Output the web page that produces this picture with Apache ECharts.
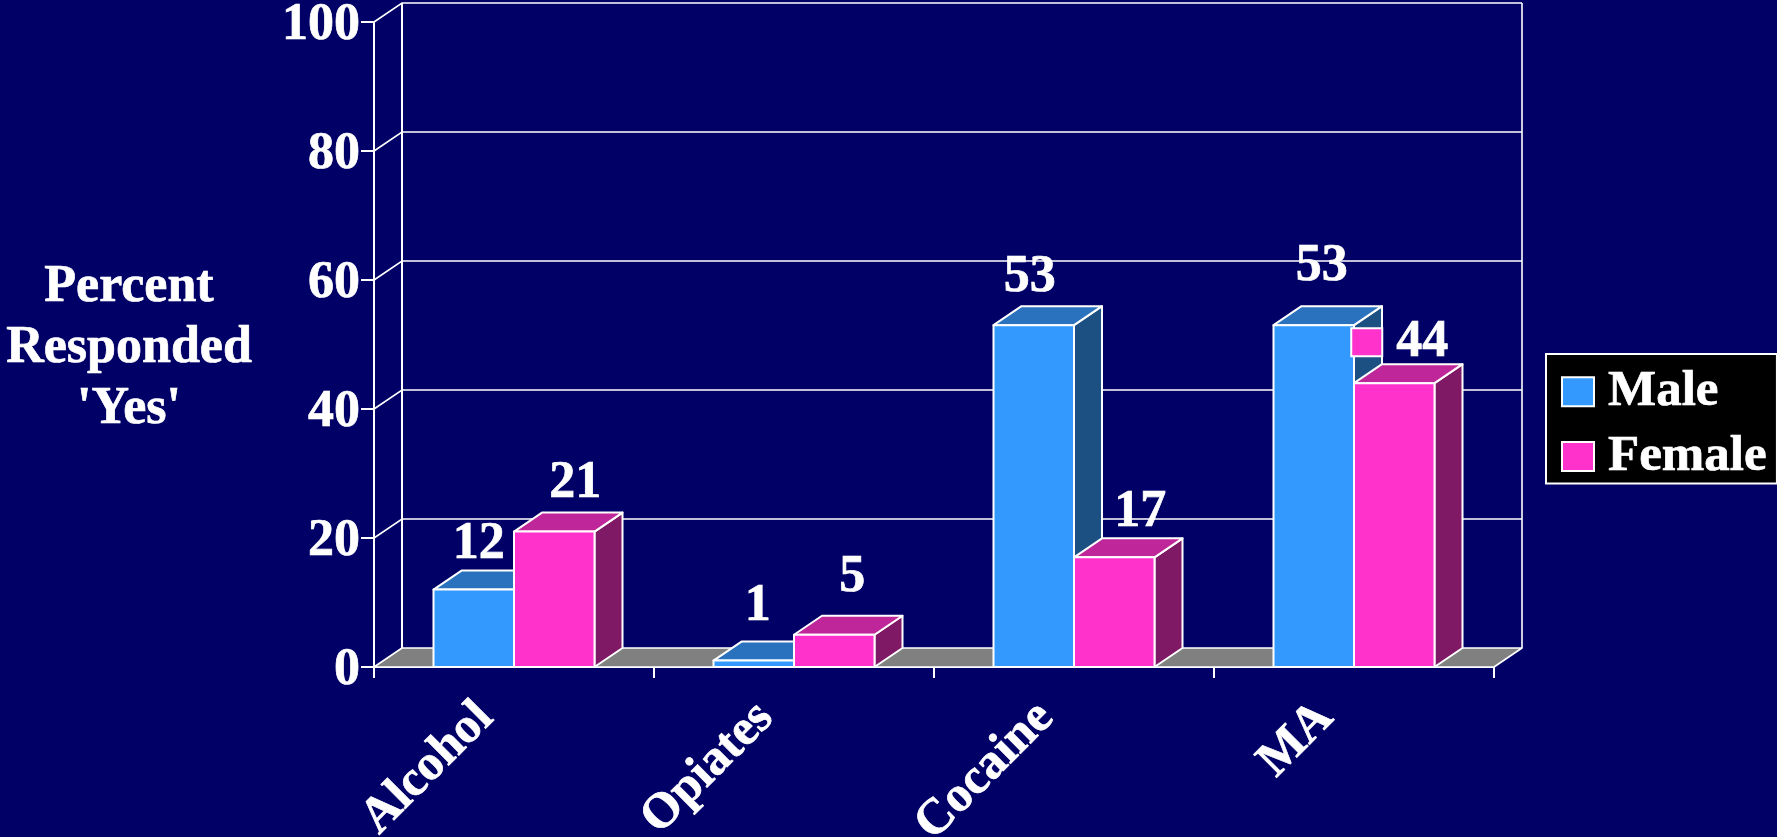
<!DOCTYPE html>
<html>
<head>
<meta charset="utf-8">
<style>html,body{margin:0;padding:0;background:#000066}#c{width:1777px;height:837px}</style>
<script src="https://cdn.jsdelivr.net/npm/echarts@6/dist/echarts.min.js"></script>
</head>
<body>
<div id="c"></div>
<script>
const categories = ['Alcohol', 'Opiates', 'Cocaine', 'MA'];
const maleValues = [12, 1, 53, 53];
const femaleValues = [21, 5, 17, 44];
const yTicks = [0, 20, 40, 60, 80, 100];
const yTitle = "Percent\nResponded\n'Yes'";

const FONT = '"Liberation Serif","Times New Roman",serif';
const BIG = 52;
const DX = 28, DY = -19;
const LINE = '#ffffff';
const BAR_SHARE = 0.2875;
const HEAVY = { textBorderColor: '#fff', textBorderWidth: 0.7 };
// hand-placed label offsets (from the bar's top centre), as in the original
const maleNudge = [[5, -27], [4, -36], [-4, -30], [8, -41]];
const femaleNudge = [[21, -30], [18, -40], [26, -27], [28, -23]];

function poly(points, fill, width) {
  return { type: 'polygon', shape: { points }, style: { fill, stroke: LINE, lineWidth: width || 2, lineJoin: 'round' } };
}
function barSeries(name, values, side, colors, nudge) {
  return {
    name, type: 'custom', coordinateSystem: 'cartesian2d', clip: false,
    encode: { x: 0, y: 1 }, itemStyle: { color: colors[0] },
    data: values.map((v, i) => [i, v]),
    z: 5,
    renderItem(params, api) {
      const i = api.value(0), v = api.value(1);
      const c = api.coord([i, v]), base = api.coord([i, 0]);
      const w = api.size([1, 0])[0] * BAR_SHARE;
      const x0 = side < 0 ? c[0] - w : c[0], x1 = x0 + w;
      const t = c[1], b = base[1];
      const n = nudge[i];
      const children = [
        poly([[x1, b], [x1 + DX, b + DY], [x1 + DX, t + DY], [x1, t]], colors[2]),
        poly([[x0, t], [x0 + DX, t + DY], [x1 + DX, t + DY], [x1, t]], colors[1]),
        poly([[x0, b], [x1, b], [x1, t], [x0, t]], colors[0]),
        { type: 'text', z2: 10, style: { text: String(v), x: (x0 + x1) / 2 + n[0], y: t + n[1] - 0.3375 * BIG, fill: '#fff',
          stroke: '#fff', lineWidth: 0.7,
          font: 'bold ' + BIG + 'px ' + FONT, align: 'center', verticalAlign: 'middle' } }
      ];
      if (side > 0 && i === categories.length - 1) {
        // the legend key shown beside the "44" label
        children.push({ type: 'rect', z2: 10, shape: { x: (x0 + x1) / 2 - 43, y: t - 55, width: 31, height: 28 },
          style: { fill: colors[0], stroke: LINE, lineWidth: 2 } });
      }
      return { type: 'group', children };
    }
  };
}

const chart = echarts.init(document.getElementById('c'), null, { renderer: 'canvas' });
chart.setOption({
  animation: false,
  backgroundColor: '#000066',
  title: {
    text: yTitle, left: 124, top: 252, textAlign: 'center',
    textStyle: { color: '#fff', fontFamily: FONT, fontWeight: 'bold', fontSize: BIG, lineHeight: 61, ...HEAVY }
  },
  legend: {
    left: 1546, top: 354, orient: 'vertical', align: 'left', selectedMode: false,
    backgroundColor: '#000', borderColor: LINE, borderWidth: 2, borderRadius: 0,
    padding: [12, 10, 1, 15], itemWidth: 32, itemHeight: 29, itemGap: 13, icon: 'rect',
    textStyle: { color: '#fff', fontFamily: FONT, fontWeight: 'bold', fontSize: 51, lineHeight: 50, padding: [0, 0, 0, 9], ...HEAVY },
    data: [
      { name: 'Male', itemStyle: { color: '#3399FF', borderColor: LINE, borderWidth: 2 } },
      { name: 'Female', itemStyle: { color: '#FF33CC', borderColor: LINE, borderWidth: 2 } }
    ]
  },
  grid: { left: 374, right: 283, top: 22, bottom: 170, containLabel: false, outerBoundsMode: 'none' },
  xAxis: {
    type: 'category', data: categories, boundaryGap: true,
    axisLine: { show: true, lineStyle: { color: LINE, width: 2 } },
    axisTick: { show: true, alignWithLabel: false, length: 11, lineStyle: { color: LINE, width: 2 } },
    axisLabel: { color: '#fff', fontFamily: FONT, fontWeight: 'bold', fontSize: 50, rotate: 45, margin: 15, interval: 0, padding: [0, 40, 0, 0], hideOverlap: false, ...HEAVY }
  },
  yAxis: {
    type: 'value', min: 0, max: 100, interval: 20,
    axisLine: { show: true, lineStyle: { color: LINE, width: 2 } },
    axisTick: { show: true, length: 13, lineStyle: { color: LINE, width: 2 } },
    axisLabel: { color: '#fff', fontFamily: FONT, fontWeight: 'bold', fontSize: BIG, margin: 14, verticalAlign: 'top', lineHeight: 8, ...HEAVY },
    splitLine: { show: false }
  },
  series: [
    {
      name: 'wall', type: 'custom', coordinateSystem: 'cartesian2d', clip: false, silent: true, z: 1,
      encode: { x: 0, y: 1 }, data: yTicks.map(v => [0, v]),
      renderItem(params, api) {
        const v = api.value(1);
        const band = api.size([1, 0])[0];
        const left = api.coord([0, v])[0] - band / 2;
        const right = api.coord([categories.length - 1, v])[0] + band / 2;
        const y = api.coord([0, v])[1];
        const top = api.coord([0, 100])[1];
        const bottom = api.coord([0, 0])[1];
        const children = [];
        const line = (pts, w) => ({ type: 'polyline', shape: { points: pts }, style: { fill: 'none', stroke: LINE, lineWidth: w } });
        if (v === 0) {
          children.push(poly([[left, y], [left + DX, y + DY], [right + DX, y + DY], [right, y]], '#808080', 1.6));
          children.push(line([[left + DX, top + DY], [left + DX, bottom + DY]], 2));
          children.push(line([[right + DX, top + DY], [right + DX, bottom + DY]], 1.6));
        } else {
          children.push(line([[left, y], [left + DX, y + DY], [right + DX, y + DY]], 1.6));
        }
        return { type: 'group', children };
      }
    },
    barSeries('Male', maleValues, -1, ['#3399FF', '#2A72BE', '#1C5083'], maleNudge),
    barSeries('Female', femaleValues, 1, ['#FF33CC', '#BF2699', '#7F1966'], femaleNudge)
  ]
});
</script>
</body>
</html>
